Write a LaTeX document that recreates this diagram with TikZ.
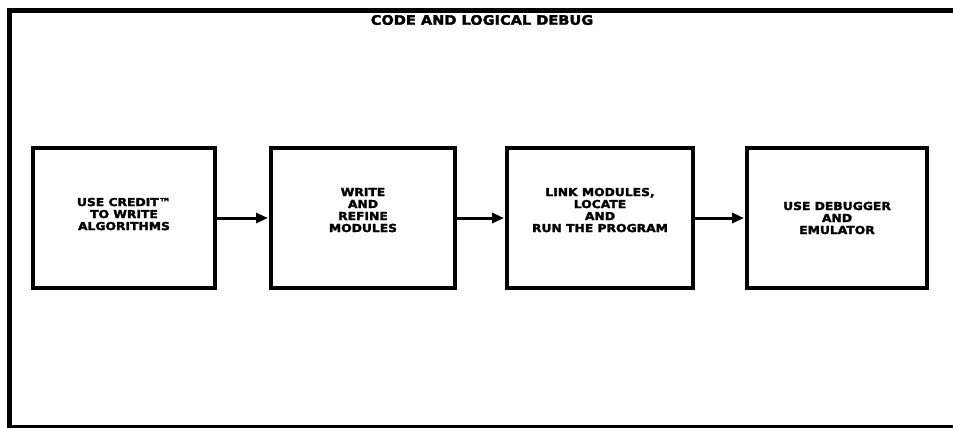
\documentclass[tikz,border=0pt]{standalone}
\usepackage{fontspec}
\setmainfont{DejaVu Sans}[BoldFont={DejaVu Sans Bold}]
\newfontfamily\heavyfont{DejaVu Sans Bold}[FakeStretch=1.12,FakeBold=2.4]
\usetikzlibrary{arrows.meta}
\begin{document}
\begin{tikzpicture}[x=1pt,y=-1pt,
  stagebox/.style={draw=black,line width=4pt,fill=white,inner sep=0pt,
    align=center,font=\heavyfont\fontsize{11}{12}\selectfont},
  flow/.style={line width=3pt,-{Triangle[length=12pt,width=10pt]},shorten >=1pt},
  frameline/.style={black,line cap=rect}]
  \useasboundingbox (0,0) rectangle (953,428);
  \fill[white] (0,0) rectangle (953,428);

  % open frame: heavy top and left rules, lighter bottom rule
  \coordinate (ftl) at (9.5,10.5);
  \coordinate (fbl) at (9.5,426.5);
  \coordinate (ftr) at (953,10.5);
  \coordinate (fbr) at (953,426.5);
  \draw[frameline,line width=4.5pt] (ftl) -- (ftr);
  \draw[frameline,line width=5pt] (ftl) -- (fbl);
  \draw[frameline,line width=2.2pt] (fbl) -- (fbr);

  % heading
  \node[font=\heavyfont\fontsize{13}{14}\selectfont] (title) at (482,20)
    {CODE AND LOGICAL DEBUG};

  % the four stages (a trailing empty line lifts the text a little)
  \node[stagebox,minimum width=182pt,minimum height=140pt] (s1) at (124,218)
    {USE CREDIT™\\TO WRITE\\ALGORITHMS\\[-4pt]};
  \node[stagebox,minimum width=184pt,minimum height=140pt] (s2) at (363,218)
    {WRITE\\AND\\REFINE\\MODULES\\[4pt]};
  \node[stagebox,minimum width=186pt,minimum height=140pt] (s3) at (600,218)
    {LINK MODULES,\\LOCATE\\AND\\RUN THE PROGRAM\\[4pt]};
  \node[stagebox,minimum width=180pt,minimum height=140pt] (s4) at (837,218)
    {USE DEBUGGER\\AND\\EMULATOR};

  % connectors
  \draw[flow] (s1.east) -- (s2.west);
  \draw[flow] (s2.east) -- (s3.west);
  \draw[flow] (s3.east) -- (s4.west);
\end{tikzpicture}
\end{document}
